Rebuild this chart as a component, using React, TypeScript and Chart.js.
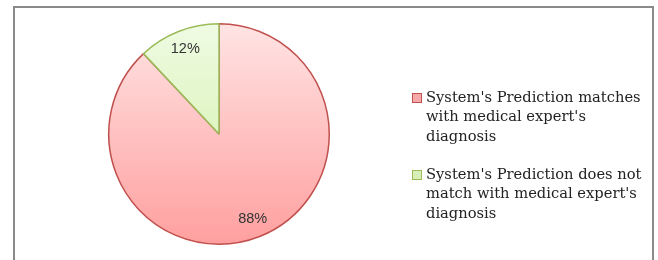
import React, { useEffect, useRef } from "react";
import { Chart, registerables } from "chart.js";

Chart.register(...registerables);

const categories = [
  ["System's Prediction matches", "with medical expert's", "diagnosis"],
  ["System's Prediction does not", "match with medical expert's", "diagnosis"],
];
const values = [88, 12];
const percentLabels = ["88%", "12%"];
const gradientStops = [
  ["#FFE4E4", "#FF9F9F"],
  ["#EFFBE3", "#CDEFA0"],
];
const borderColors = ["#C0504D", "#9BBB59"];
const legendFill = ["#F7A8A8", "#D8F0B8"];

const decorPlugin = {
  id: "decor",
  beforeDraw(chart: any) {
    const ctx = chart.ctx;
    ctx.save();
    ctx.fillStyle = "#ffffff";
    ctx.fillRect(0, 0, chart.width, chart.height);
    ctx.strokeStyle = "#8a8a8a";
    ctx.lineWidth = 2;
    ctx.beginPath();
    ctx.moveTo(14, 262);
    ctx.lineTo(14, 7);
    ctx.lineTo(653, 7);
    ctx.lineTo(653, 262);
    ctx.stroke();
    ctx.restore();
  },
  afterDraw(chart: any) {
    const ctx = chart.ctx;
    const meta = chart.getDatasetMeta(0);
    ctx.save();
    ctx.font = "14.5px 'Liberation Sans', Arial, sans-serif";
    ctx.fillStyle = "#333333";
    ctx.textAlign = "center";
    ctx.textBaseline = "middle";
    meta.data.forEach((arc: any, i: number) => {
      const { x, y, startAngle, endAngle, outerRadius } = arc.getProps(
        ["x", "y", "startAngle", "endAngle", "outerRadius"],
        true
      );
      const mid = (startAngle + endAngle) / 2;
      const r = outerRadius * 0.83;
      ctx.fillText(percentLabels[i], x + Math.cos(mid) * r, y + Math.sin(mid) * r);
    });
    // legend
    ctx.font = "14.7px 'DejaVu Serif', serif";
    ctx.textAlign = "left";
    ctx.textBaseline = "middle";
    const tops = [98, 175];
    categories.forEach((lines, i) => {
      const y0 = tops[i];
      ctx.fillStyle = legendFill[i];
      ctx.fillRect(412.5, y0 - 4.5, 9, 9);
      ctx.strokeStyle = borderColors[i];
      ctx.lineWidth = 1;
      ctx.strokeRect(412.5, y0 - 4.5, 9, 9);
      ctx.fillStyle = "#222222";
      lines.forEach((ln, j) => {
        ctx.fillText(ln, 426, y0 + j * 19.5);
      });
    });
    ctx.restore();
  },
};

export default function App() {
  const ref = useRef<HTMLCanvasElement>(null);
  useEffect(() => {
    document.body.style.margin = "0";
    const canvas = ref.current!;
    const chart = new Chart(canvas, {
      type: "pie",
      data: {
        labels: categories.map((c) => c.join(" ")),
        datasets: [
          {
            data: values,
            backgroundColor: (c: any) => {
              const area = c.chart.chartArea;
              const stops = gradientStops[c.dataIndex];
              if (!area) return stops[1];
              const g = c.chart.ctx.createLinearGradient(0, area.top, 0, area.bottom);
              g.addColorStop(0, stops[0]);
              g.addColorStop(1, stops[1]);
              return g;
            },
            borderColor: borderColors,
            borderWidth: 1.5,
          },
        ],
      },
      options: {
        animation: false,
        responsive: false,
        maintainAspectRatio: false,
        layout: { padding: { left: 107, right: 327, top: 23, bottom: 15 } },
        plugins: {
          legend: { display: false },
          tooltip: { enabled: false },
        },
      },
      plugins: [decorPlugin],
    });
    return () => chart.destroy();
  }, []);
  return (
    <div style={{ width: 658, height: 260, position: "relative" }}>
      <canvas ref={ref} width={658} height={260} style={{ display: "block" }} />
    </div>
  );
}
